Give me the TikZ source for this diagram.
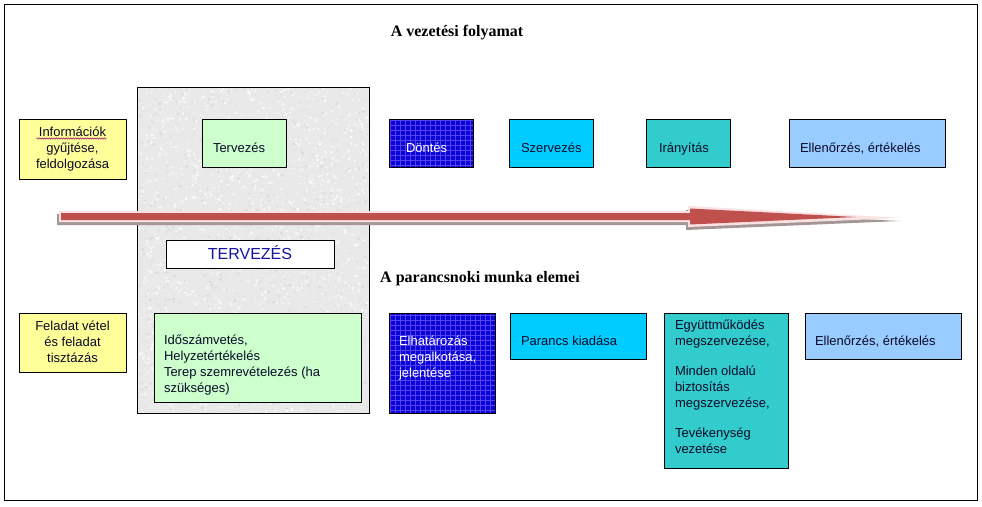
\documentclass[tikz,border=0pt]{standalone}
\usepackage{fontspec}
\setmainfont{Liberation Sans}
\newfontfamily\titlefont{Liberation Serif}
\usetikzlibrary{decorations.pathmorphing}
\definecolor{yel}{RGB}{255,255,153}
\definecolor{grn}{RGB}{204,255,204}
\definecolor{dblue}{RGB}{10,5,215}
\definecolor{gridc}{RGB}{85,65,240}
\definecolor{cyn}{RGB}{0,204,255}
\definecolor{tea}{RGB}{51,204,204}
\definecolor{lblue}{RGB}{153,204,255}
\definecolor{stone}{RGB}{233,233,233}
\definecolor{txt}{RGB}{10,10,40}
\definecolor{tblue}{RGB}{20,20,160}
\definecolor{arred}{RGB}{192,80,77}
\definecolor{arpink}{RGB}{250,226,226}
\definecolor{arshadow}{RGB}{165,150,150}
\begin{document}
\begin{tikzpicture}[x=1pt,y=-1pt,
  box/.style={draw=black,line width=0.8pt,inner sep=0pt,outer sep=0pt,anchor=north west},
  lbl/.style={inner sep=0pt,outer sep=0pt,font=\fontsize{13}{16}\selectfont,text=txt},
  mlbl/.style={lbl,align=left,anchor=north west},
  ttl/.style={inner sep=0pt,outer sep=0pt,font=\titlefont\bfseries\fontsize{16}{19}\selectfont,anchor=base}]
\useasboundingbox (0,0) rectangle (982,506);
\fill[white] (0,0) rectangle (982,506);
% outer frame
\node[box,fill=white,minimum width=973pt,minimum height=496pt] (frame) at (4,4) {};
% titles
\node[ttl] (title1) at (457,36) {A vezetési folyamat};
\node[ttl] (title2) at (480,282) {A parancsnoki munka elemei};
% gray planning area
\node[box,fill=stone,minimum width=232pt,minimum height=326pt] (gray) at (137,87) {};
\begin{scope}
\clip (gray.north west) rectangle (gray.south east);
\pgfmathsetseed{11}
\foreach \i in {1,...,2200}{
  \pgfmathsetmacro\px{137+232*rnd}
  \pgfmathsetmacro\py{87+326*rnd}
  \pgfmathsetmacro\gg{3+13*rnd}
  \pgfmathsetmacro\rr{0.5+1.1*rnd}
  \fill[black!\gg] (\px,\py) circle (\rr pt);
}
\foreach \i in {1,...,1200}{
  \pgfmathsetmacro\px{137+232*rnd}
  \pgfmathsetmacro\py{87+326*rnd}
  \pgfmathsetmacro\rr{0.5+1.2*rnd}
  \fill[white,opacity=0.7] (\px,\py) circle (\rr pt);
}
\end{scope}
\draw[line width=0.8pt] (gray.north west) rectangle (gray.south east);
% top row
\node[box,fill=yel,minimum width=107pt,minimum height=60pt] (yel1) at (19,119) {};
\node[lbl,align=center,anchor=north] (tyel1) at (72.5,124.8) {\strut Információk\\\strut gyűjtése,\\\strut feldolgozása};
\draw[red!60!blue,line width=0.5pt,decorate,decoration={snake,amplitude=0.7pt,segment length=2.4pt}] ([xshift=-36pt]tyel1.north |- 0,138.5) -- ([xshift=34pt]tyel1.north |- 0,138.5);
\node[box,fill=grn,minimum width=84pt,minimum height=48pt] (terv) at (202,119) {};
\node[lbl,anchor=base west] (tterv) at (213,152) {Tervezés};
\node[box,fill=dblue,minimum width=84pt,minimum height=48pt] (dontes) at (389,119) {};
\begin{scope}
\clip (dontes.north west) rectangle (dontes.south east);
\draw[gridc,line width=0.35pt,step=5pt] (dontes.north west) grid (dontes.south east);
\end{scope}
\draw[line width=0.8pt] (dontes.north west) rectangle (dontes.south east);
\node[lbl,anchor=base west,text=white] (tdontes) at (406,152) {Döntés};
\node[box,fill=cyn,minimum width=84pt,minimum height=48pt] (szerv) at (509,119) {};
\node[lbl,anchor=base west] (tszerv) at (521,152) {Szervezés};
\node[box,fill=tea,minimum width=84pt,minimum height=48pt] (iranyit) at (646,119) {};
\node[lbl,anchor=base west] (tiranyit) at (659,152) {Irányítás};
\node[box,fill=lblue,minimum width=156pt,minimum height=48pt] (ell1) at (789,119) {};
\node[lbl,anchor=base west] (tell1) at (800,152) {Ellenőrzés, értékelés};
% arrow
\fill[arshadow] (57,214) -- (686,214) -- (686,210) -- (900,221) -- (686,230) -- (686,225) -- (57,225) -- cycle;
\fill[arpink] (59,211) -- (688,211) -- (688,206) -- (902,218) -- (688,227) -- (688,222) -- (59,222) -- cycle;
\fill[arred] (61,213) -- (690,213) -- (690,208.5) -- (856,217) -- (690,224.5) -- (690,220) -- (61,220) -- cycle;
% TERVEZES label box
\node[box,fill=white,minimum width=168pt,minimum height=28pt] (tervbox) at (166,240) {};
\node[inner sep=0pt,font=\fontsize{16}{19}\selectfont,text=tblue,anchor=base] (ttervbox) at (250,259.5) {TERVEZÉS};
% bottom row
\node[box,fill=yel,minimum width=107pt,minimum height=59pt] (yel2) at (19,313) {};
\node[lbl,align=center,anchor=north] (tyel2) at (72.5,318.8) {\strut Feladat vétel\\\strut és feladat\\\strut tisztázás};
\node[box,fill=grn,minimum width=207pt,minimum height=89pt] (grn2) at (154,313) {};
\node[mlbl] (tgrn2) at (164,333.3) {\strut Időszámvetés,\\\strut Helyzetértékelés\\\strut Terep szemrevételezés (ha\\\strut szükséges)};
\node[box,fill=dblue,minimum width=106pt,minimum height=100pt] (elhat) at (389,313) {};
\begin{scope}
\clip (elhat.north west) rectangle (elhat.south east);
\draw[gridc,line width=0.35pt,step=5pt] (elhat.north west) grid (elhat.south east);
\end{scope}
\draw[line width=0.8pt] (elhat.north west) rectangle (elhat.south east);
\node[mlbl,text=white] (telhat) at (399,334.3) {\strut Elhatározás\\\strut megalkotása,\\\strut jelentése};
\node[box,fill=cyn,minimum width=136pt,minimum height=46pt] (parancs) at (510,313) {};
\node[lbl,anchor=base west] (tparancs) at (521,345.5) {Parancs kiadása};
\node[box,fill=tea,minimum width=124pt,minimum height=155pt] (egyutt) at (664,313) {};
\node[mlbl] (tegyutt) at (675,318.3) {\strut Együttműködés\\\strut megszervezése,\\[14pt]\strut Minden oldalú\\\strut biztosítás\\\strut megszervezése,\\[14pt]\strut Tevékenység\\\strut vezetése};
\node[box,fill=lblue,minimum width=156pt,minimum height=46pt] (ell2) at (805,313) {};
\node[lbl,anchor=base west] (tell2) at (815,345.5) {Ellenőrzés, értékelés};
\end{tikzpicture}
\end{document}
